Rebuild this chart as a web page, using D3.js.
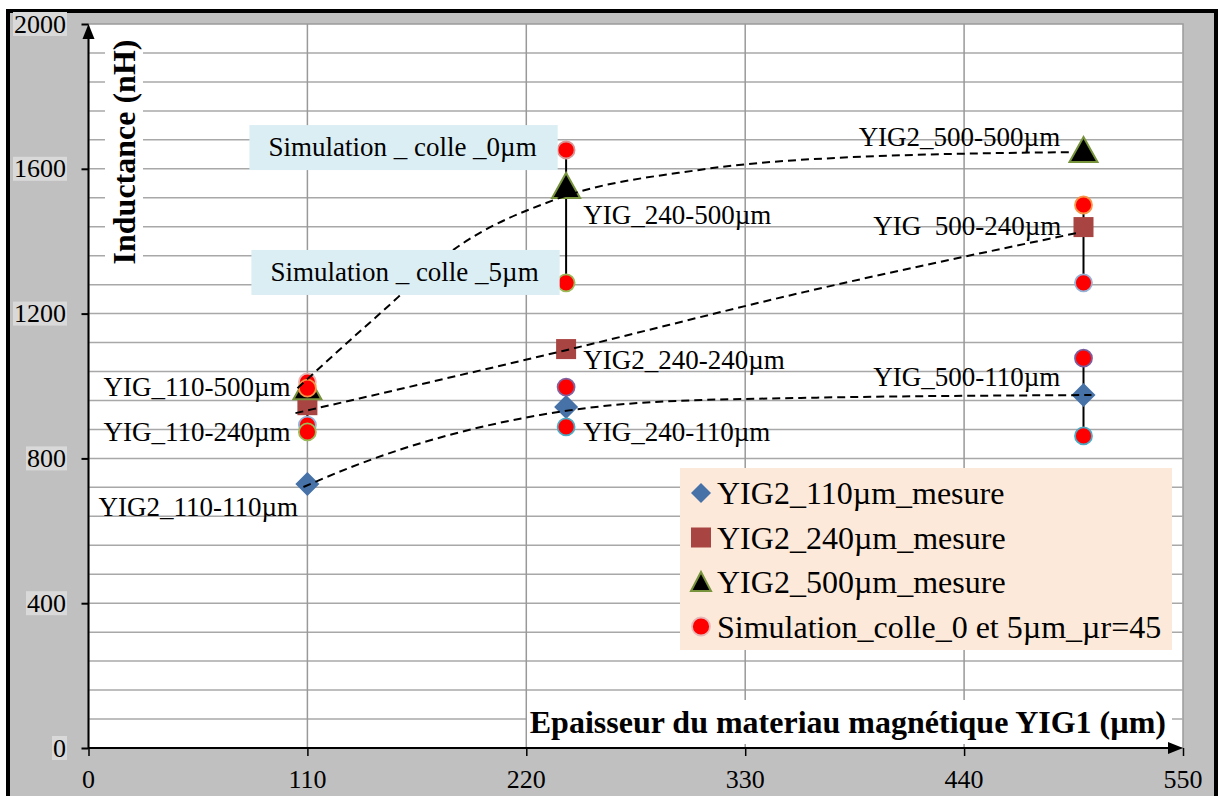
<!DOCTYPE html>
<html>
<head>
<meta charset="utf-8">
<script src="https://cdn.jsdelivr.net/npm/d3@7"></script>
<style>
  html, body { margin: 0; padding: 0; background: #fff; }
  svg text { font-family: "Liberation Serif", "Times New Roman", serif; }
</style>
</head>
<body>
<svg id="chart" width="1219" height="796"></svg>
<script>
// ---- data -------------------------------------------------------------
const xTicks = [0, 110, 220, 330, 440, 550];
const yTicks = [0, 400, 800, 1200, 1600, 2000];
const yGrid = d3.range(80, 2000, 80);

// measured inductance (nH) vs YIG1 thickness (µm)
const yig110 = [[110, 729], [240, 942], [500, 975]];
const yig240 = [[110, 947], [240, 1102], [500, 1439]];
const yig500 = [[110, 994], [240, 1550], [500, 1649]];

// simulations (glue 0 µm and 5 µm), each with its own outline colour
const simX = [110, 110, 110, 110, 240, 240, 240, 240, 500, 500, 500, 500];
const simY = [1011, 994, 892, 873, 1652, 1285, 997, 887, 1500, 1285, 1077, 862];
const simStroke = ["#e6b9b8", "#f79646", "#95b3d7", "#9bbb59",
                   "#d99694", "#9bbb59", "#8064a2", "#4bacc6",
                   "#f79646", "#95b3d7", "#7a5fa0", "#4bacc6"];

// vertical spans between the two simulated values
const spans = [[110, 994, 892], [240, 1652, 1285], [240, 997, 887],
               [500, 1500, 1285], [500, 1077, 862]];

// trend curves through the measured series
const trend500 = [[105, 994], [144, 1188], [187, 1390], [234, 1514], [307, 1597], [383, 1632], [493, 1646]];
const trend240 = [[104, 925], [240, 1099], [360, 1260], [497, 1423]];
const trend110 = [[108, 721], [132, 776], [227, 920], [285, 956], [358, 967], [504, 975]];

// point annotations: text, x (µm), y (nH)
const pointLabels = [
  ["YIG2_500-500µm", 387, 1688],
  ["YIG_240-500µm", 248.6, 1472],
  ["YIG  500-240µm", 394.3, 1442],
  ["YIG2_240-240µm", 248.6, 1072],
  ["YIG_500-110µm", 394.3, 1025],
  ["YIG_240-110µm", 248.6, 873],
  ["YIG_110-500µm", 7.5, 997],
  ["YIG_110-240µm", 7.5, 873],
  ["YIG2_110-110µm", 5, 666]
];
const boxLabels = [
  ["Simulation _ colle _0µm", 90.4, 1660],
  ["Simulation _ colle _5µm", 91.4, 1315]
];

const legendItems = ["YIG2_110µm_mesure", "YIG2_240µm_mesure", "YIG2_500µm_mesure",
                     "Simulation_colle_0 et 5µm_µr=45"];

const xTitle = "Epaisseur du materiau magnétique YIG1 (µm)";
const yTitle = "Inductance (nH)";

// ---- layout -----------------------------------------------------------
const svg = d3.select("#chart");
const W = 1219, H = 796;
const pL = 88.5, pR = 1183, pT = 24, pB = 748;

const x = d3.scaleLinear().domain([0, 550]).range([pL, pR]);
const y = d3.scaleLinear().domain([0, 2000]).range([pB, pT]);

// outer frame
svg.append("rect").attr("x", 0).attr("y", 0).attr("width", W).attr("height", H).attr("fill", "#fff");
svg.append("rect").attr("x", 8).attr("y", 11).attr("width", 1208).attr("height", 792)
  .attr("fill", "#c0c0c0").attr("stroke", "#000").attr("stroke-width", 4);

// plot area
svg.append("rect").attr("x", pL).attr("y", pT).attr("width", pR - pL).attr("height", pB - pT)
  .attr("fill", "#fff").attr("stroke", "#9a9a9a").attr("stroke-width", 1.5);

// grid
svg.append("g").selectAll("line").data(yGrid).join("line")
  .attr("x1", pL).attr("x2", pR).attr("y1", d => y(d)).attr("y2", d => y(d))
  .attr("stroke", "#a8a8a8").attr("stroke-width", 1.5);
svg.append("g").selectAll("line").data(xTicks.slice(1, -1)).join("line")
  .attr("x1", d => x(d)).attr("x2", d => x(d)).attr("y1", pT).attr("y2", pB)
  .attr("stroke", "#999").attr("stroke-width", 1.5);

// white backing behind axis titles
svg.append("rect").attr("x", 105).attr("y", 34).attr("width", 38).attr("height", 240).attr("fill", "#fff");
svg.append("rect").attr("x", 527).attr("y", 700).attr("width", 645).attr("height", 44).attr("fill", "#fff");

// axes
const yAxis = d3.axisLeft(y).tickValues(yTicks).tickSize(7).tickFormat("");
const gy = svg.append("g").attr("transform", `translate(${pL},0)`).call(yAxis);
gy.select(".domain").attr("d", `M0,${pB}V${pT + 10}`).attr("stroke", "#000").attr("stroke-width", 2);
gy.selectAll(".tick line").attr("stroke", "#000").attr("stroke-width", 2).attr("x2", -7);

const xAxis = d3.axisBottom(x).tickValues(xTicks).tickSize(8).tickFormat("");
const gx = svg.append("g").attr("transform", `translate(0,${pB})`).call(xAxis);
gx.select(".domain").attr("d", `M${pL},0H${pR - 10}`).attr("stroke", "#000").attr("stroke-width", 2);
gx.selectAll(".tick line").attr("stroke", "#000").attr("stroke-width", 1.5);

// arrow heads
svg.append("path").attr("d", `M${pL},${pT}l-6,15h12z`).attr("fill", "#000");
svg.append("path").attr("d", `M${pR},${pB}l-15,-6v12z`).attr("fill", "#000");

// y tick labels with light backgrounds
const yl = svg.append("g").selectAll("g").data(yTicks).join("g");
yl.append("text").attr("x", 66).attr("y", d => y(d)).attr("text-anchor", "end")
  .attr("dominant-baseline", "central").attr("font-size", 26).attr("fill", "#000")
  .text(d => d).each(function (d) {
    const b = this.getBBox();
    d3.select(this.parentNode).insert("rect", "text")
      .attr("x", b.x - 1).attr("y", y(d) - 12)
      .attr("width", b.width + 2).attr("height", 24).attr("fill", "#d9d9d9");
  });

// x tick labels
svg.append("g").selectAll("text").data(xTicks).join("text")
  .attr("x", d => x(d)).attr("y", 779).attr("text-anchor", "middle")
  .attr("dominant-baseline", "central").attr("font-size", 26).attr("fill", "#000")
  .text(d => d);

// axis titles
svg.append("text").attr("transform", `translate(124,152) rotate(-90)`)
  .attr("text-anchor", "middle").attr("dominant-baseline", "central")
  .attr("font-size", 32).attr("font-weight", "bold").text(yTitle);
svg.append("text").attr("x", 1166).attr("y", 722).attr("text-anchor", "end")
  .attr("dominant-baseline", "central").attr("font-size", 32).attr("font-weight", "bold").text(xTitle);

// simulation spans
svg.append("g").selectAll("line").data(spans).join("line")
  .attr("x1", d => x(d[0])).attr("x2", d => x(d[0]))
  .attr("y1", d => y(d[1])).attr("y2", d => y(d[2]))
  .attr("stroke", "#000").attr("stroke-width", 2);

// markers
const diamond = d3.symbol().type(d3.symbolSquare).size(288);
svg.append("g").selectAll("path").data(yig110).join("path")
  .attr("d", diamond).attr("transform", d => `translate(${x(d[0])},${y(d[1])}) rotate(45)`)
  .attr("fill", "#4672a8");
svg.append("g").selectAll("rect").data(yig240).join("rect")
  .attr("x", d => x(d[0]) - 10).attr("y", d => y(d[1]) - 10).attr("width", 20).attr("height", 20)
  .attr("fill", "#a84442");
svg.append("g").selectAll("path").data(yig500).join("path")
  .attr("d", "M0,-14L14,11H-14Z")
  .attr("transform", d => `translate(${x(d[0])},${y(d[1])})`)
  .attr("fill", "#000").attr("stroke", "#77933c").attr("stroke-width", 2);
svg.append("g").selectAll("circle").data(simY).join("circle")
  .attr("cx", (d, i) => x(simX[i])).attr("cy", d => y(d)).attr("r", 8.5)
  .attr("fill", "#ff0000").attr("stroke", (d, i) => simStroke[i]).attr("stroke-width", 1.8);

// trend curves
const line = d3.line().x(d => x(d[0])).y(d => y(d[1])).curve(d3.curveMonotoneX);
svg.append("g").selectAll("path").data([trend500, trend240, trend110]).join("path")
  .attr("d", line).attr("fill", "none").attr("stroke", "#000").attr("stroke-width", 2)
  .attr("stroke-dasharray", "8,5");

// annotations
svg.append("g").selectAll("text").data(pointLabels).join("text")
  .attr("x", d => x(d[1])).attr("y", d => y(d[2])).attr("dominant-baseline", "central")
  .attr("font-size", 27).attr("fill", "#000").style("white-space", "pre").text(d => d[0]);

const bl = svg.append("g").selectAll("g").data(boxLabels).join("g");
bl.append("text").attr("x", d => x(d[1])).attr("y", d => y(d[2])).attr("dominant-baseline", "central")
  .attr("font-size", 27).attr("fill", "#000").text(d => d[0])
  .each(function (d) {
    const b = this.getBBox();
    d3.select(this.parentNode).insert("rect", "text")
      .attr("x", b.x - 19).attr("y", y(d[2]) - 22).attr("width", b.width + 40).attr("height", 45)
      .attr("fill", "#dbeef4");
  });

// legend
const lg = svg.append("g");
lg.append("rect").attr("x", 680).attr("y", 468).attr("width", 492).attr("height", 182).attr("fill", "#fde9d9");
const rowY = i => 493 + i * 44.5;
lg.selectAll("text").data(legendItems).join("text")
  .attr("x", 717).attr("y", (d, i) => rowY(i)).attr("dominant-baseline", "central")
  .attr("font-size", 32).attr("fill", "#000").text(d => d);
lg.append("path").attr("d", d3.symbol().type(d3.symbolSquare).size(200))
  .attr("transform", `translate(701,${rowY(0)}) rotate(45)`).attr("fill", "#4672a8");
lg.append("rect").attr("x", 691).attr("y", rowY(1) - 10).attr("width", 20).attr("height", 20).attr("fill", "#a84442");
lg.append("path").attr("d", "M0,-10L10,9H-10Z").attr("transform", `translate(701,${rowY(2)})`)
  .attr("fill", "#000").attr("stroke", "#77933c").attr("stroke-width", 2);
lg.append("circle").attr("cx", 701).attr("cy", rowY(3)).attr("r", 9)
  .attr("fill", "#ff0000").attr("stroke", "#e6b9b8").attr("stroke-width", 1.8);
</script>
</body>
</html>
